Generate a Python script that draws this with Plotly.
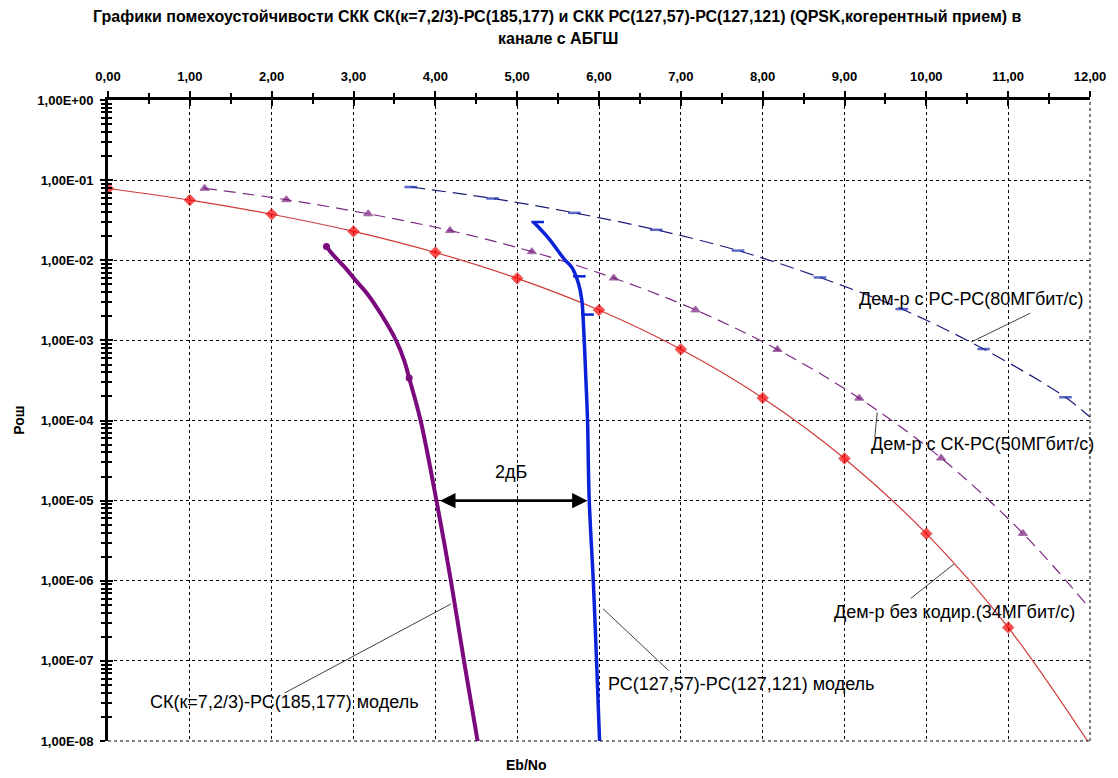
import math
import plotly.graph_objects as go

# ---------------- data ----------------
x_ticks = [0, 1, 2, 3, 4, 5, 6, 7, 8, 9, 10, 11, 12]
x_tick_labels = ["0,00", "1,00", "2,00", "3,00", "4,00", "5,00", "6,00",
                 "7,00", "8,00", "9,00", "10,00", "11,00", "12,00"]
x_minor_ticks = [0.5, 1.5, 2.5, 3.5, 4.5, 5.5, 6.5, 7.5, 8.5, 9.5, 10.5, 11.5]

y_decades = [1e0, 1e-1, 1e-2, 1e-3, 1e-4, 1e-5, 1e-6, 1e-7, 1e-8]
y_tick_labels = ["1,00E+00", "1,00E-01", "1,00E-02", "1,00E-03", "1,00E-04",
                 "1,00E-05", "1,00E-06", "1,00E-07", "1,00E-08"]
y_mantissas = [2, 3, 4, 5, 6, 7, 8, 9]

# uncoded demodulator (34 Mbit/s)
uncoded_x = [0, 1, 2, 3, 4, 5, 6, 7, 8, 9, 10, 11, 12]
uncoded_y = [7.86e-2, 5.63e-2, 3.75e-2, 2.29e-2, 1.25e-2, 5.95e-3, 2.39e-3,
             7.73e-4, 1.91e-4, 3.36e-5, 3.87e-6, 2.61e-7, 9.0e-9]

# demodulator with SK-RS (50 Mbit/s)
skrs_x = [1.18, 2.18, 3.18, 4.18, 5.18, 6.18, 7.18, 8.18, 9.18, 10.18, 11.18, 12.0]
skrs_y = [7.9e-2, 5.7e-2, 3.8e-2, 2.35e-2, 1.28e-2, 6.0e-3, 2.4e-3, 7.7e-4,
          1.9e-4, 3.4e-5, 3.9e-6, 4.5e-7]

# demodulator with RS-RS (80 Mbit/s)
rsrs_x = [3.7, 4.7, 5.7, 6.7, 7.7, 8.7, 9.7, 10.7, 11.7, 12.0]
rsrs_y = [8.2e-2, 5.9e-2, 3.9e-2, 2.4e-2, 1.32e-2, 6.1e-3, 2.46e-3, 7.8e-4,
          1.95e-4, 1.1e-4]

# SK(k=7,2/3)-RS(185,177) model
sk_model_x = [2.67, 2.74, 2.91, 3.02, 3.17, 3.34, 3.52, 3.62, 3.68, 3.82,
              4.01, 4.19, 4.35, 4.53]
sk_model_y = [1.48e-2, 1.2e-2, 7.8e-3, 5.7e-3, 3.8e-3, 2.1e-3, 1.0e-3, 5.6e-4,
              3.4e-4, 1.0e-4, 1.05e-5, 1.0e-6, 1.0e-7, 8.3e-9]
sk_model_mark_x = [2.67, 3.68]
sk_model_mark_y = [1.48e-2, 3.4e-4]

# RS(127,57)-RS(127,121) model
rs_model_x = [5.2, 5.38, 5.57, 5.67, 5.75, 5.79, 5.81, 5.84, 5.86, 5.88,
              5.93, 5.97, 6.01]
rs_model_y = [3.0e-2, 1.9e-2, 1.05e-2, 8.1e-3, 5.1e-3, 3.2e-3, 1.6e-3,
              3.2e-4, 1.0e-4, 1.05e-5, 1.0e-6, 1.0e-7, 8.3e-9]
rs_model_mark_x = [5.25, 5.76, 5.86]
rs_model_mark_y = [3.0e-2, 6.3e-3, 2.1e-3]

# leader lines (x0, y0, x1, y1)
leaders = [
    (11.27, 10 ** -2.66, 10.55, 10 ** -3.02),
    (9.40, 10 ** -3.90, 9.37, 10 ** -4.21),
    (10.34, 10 ** -5.79, 9.81, 10 ** -6.22),
    (6.05, 10 ** -6.35, 6.85, 10 ** -7.12),
    (4.19, 10 ** -6.29, 2.16, 10 ** -7.40),
]
labels_text = ["Дем-р с РС-РС(80МГбит/с)", "Дем-р с СК-РС(50МГбит/с)",
               "Дем-р без кодир.(34МГбит/с)", "РС(127,57)-РС(127,121) модель",
               "СК(к=7,2/3)-РС(185,177) модель", "2дБ"]
labels_x = [10.55, 10.69, 10.35, 7.73, 2.16, 4.93]
labels_y = [10 ** -2.48, 10 ** -4.29, 10 ** -6.39, 10 ** -7.29, 10 ** -7.51, 10 ** -4.64]

gap_x0, gap_x1, gap_y = 4.04, 5.86, 1e-5

title_lines = ["Графики помехоустойчивости СКК СК(к=7,2/3)-РС(185,177) и СКК "
               "РС(127,57)-РС(127,121) (QPSK,когерентный прием) в",
               "канале с АБГШ"]

# ---------------- figure ----------------
FONT = "Liberation Sans, Arial, sans-serif"
fig = go.Figure()

fig.add_trace(go.Scatter(
    x=uncoded_x, y=uncoded_y, mode="lines+markers", line_shape="spline",
    line=dict(color="#d03a3a", width=1.2),
    marker=dict(symbol="diamond", color="#ff0000",
                size=[9] * (len(uncoded_x) - 1) + [0]),
    showlegend=False))

fig.add_trace(go.Scatter(
    x=skrs_x, y=skrs_y, mode="lines+markers", line_shape="spline",
    line=dict(color="#7a2a82", width=1.2, dash="12px,7px"),
    marker=dict(symbol="triangle-up", color="#74147a",
                size=[8] * (len(skrs_x) - 1) + [0]),
    showlegend=False))

fig.add_trace(go.Scatter(
    x=rsrs_x, y=rsrs_y, mode="lines+markers", line_shape="spline",
    line=dict(color="#1c1c7a", width=1.2, dash="14px,7px"),
    marker=dict(symbol="line-ew", color="#1a2ab0",
                line=dict(color="#1a2ab0", width=2.5),
                size=[9] * (len(rsrs_x) - 1) + [0]),
    showlegend=False))

fig.add_trace(go.Scatter(
    x=sk_model_x, y=sk_model_y, mode="lines", line_shape="spline",
    line=dict(color="#7a0a7e", width=4, smoothing=1.0), showlegend=False))
fig.add_trace(go.Scatter(
    x=sk_model_mark_x, y=sk_model_mark_y, mode="markers",
    marker=dict(symbol="circle", color="#7a0a7e", size=7), showlegend=False))

fig.add_trace(go.Scatter(
    x=rs_model_x, y=rs_model_y, mode="lines", line_shape="spline",
    line=dict(color="#0a22d8", width=3.5), showlegend=False))
fig.add_trace(go.Scatter(
    x=rs_model_mark_x, y=rs_model_mark_y, mode="markers",
    marker=dict(symbol="line-ew", color="#0a22d8",
                line=dict(color="#0a22d8", width=2.5), size=9),
    showlegend=False))

for (lx0, ly0, lx1, ly1) in leaders:
    fig.add_trace(go.Scatter(
        x=[lx0, lx1], y=[ly0, ly1], mode="lines",
        line=dict(color="#404040", width=1), showlegend=False,
        hoverinfo="skip"))

# dummy trace for overlay axes (crossing ticks)
fig.add_trace(go.Scatter(x=[None], y=[None], xaxis="x2", yaxis="y2",
                         showlegend=False))

for t, lx, ly in zip(labels_text, labels_x, labels_y):
    fig.add_annotation(x=lx, y=math.log10(ly), xref="x", yref="y", text=t,
                       showarrow=False, font=dict(family=FONT, size=18, color="black"))

fig.add_annotation(x=gap_x1, y=math.log10(gap_y), ax=gap_x0, ay=math.log10(gap_y),
                   xref="x", yref="y", axref="x", ayref="y", text="",
                   showarrow=True, arrowhead=2, arrowsize=1.1, arrowwidth=2.8,
                   arrowside="end+start", arrowcolor="black", standoff=0,
                   startstandoff=0)

# title lines (paper coordinates above the plot area)
for line_text, ly in zip(title_lines, [1.1295, 1.0967]):
    fig.add_annotation(x=0.4579, y=ly, xref="paper", yref="paper",
                       text="<b>" + line_text + "</b>", showarrow=False,
                       xanchor="center", yanchor="middle",
                       font=dict(family=FONT, size=16, color="black"))

fig.add_annotation(x=-0.0914, y=0.5, xref="paper", yref="paper", text="<b>Рош</b>",
                   textangle=-90, showarrow=False, xanchor="center", yanchor="middle",
                   font=dict(family=FONT, size=14, color="black"))
fig.add_annotation(x=0.4254, y=-0.037, xref="paper", yref="paper",
                   text="<b>Eb/No</b>", showarrow=False, xanchor="center",
                   yanchor="middle",
                   font=dict(family=FONT, size=14, color="black"))

# dashed frame lines at right and bottom edges (grid at 12,00 and 1,00E-08)
for sx0, sy0, sx1, sy1 in [(1, 0, 1, 1), (0, 0, 1, 0)]:
    fig.add_shape(type="line", xref="paper", yref="paper",
                  x0=sx0, y0=sy0, x1=sx1, y1=sy1,
                  line=dict(color="black", width=1, dash="3px,3px"))

y_minor = [m * d for d in y_decades[1:] for m in y_mantissas]

grid = dict(showgrid=True, gridcolor="black", gridwidth=1, griddash="3px,3px")
tick_font = dict(family=FONT, size=13, color="black", weight="bold")

fig.update_layout(
    width=1118, height=778,
    margin=dict(l=108, r=25, t=100, b=37),
    paper_bgcolor="white", plot_bgcolor="white",
    font=dict(family=FONT, color="black"),
    xaxis=dict(type="linear", range=[0, 12], side="top",
               tickmode="array", tickvals=x_ticks, ticktext=x_tick_labels,
               tickfont=tick_font,
               showline=True, linecolor="black", linewidth=3,
               ticks="outside", ticklen=6, tickwidth=2, tickcolor="black",
               ticklabelstandoff=5,
               minor=dict(tickmode="array", tickvals=x_minor_ticks, ticks="outside",
                          ticklen=4, tickwidth=2, tickcolor="black", showgrid=False),
               zeroline=False, **grid),
    xaxis2=dict(type="linear", range=[0, 12], side="top", overlaying="x",
                tickmode="array", tickvals=x_ticks, showticklabels=False,
                ticks="inside", ticklen=6, tickwidth=2, tickcolor="black",
                minor=dict(tickmode="array", tickvals=x_minor_ticks, ticks="inside",
                           ticklen=4, tickwidth=2, tickcolor="black", showgrid=False),
                showgrid=False, showline=False, zeroline=False),
    yaxis=dict(type="log", range=[-8, 0],
               tickmode="array", tickvals=y_decades, ticktext=y_tick_labels,
               tickfont=tick_font,
               showline=True, linecolor="black", linewidth=3,
               ticks="outside", ticklen=5, tickwidth=2, tickcolor="black",
               ticklabelstandoff=4,
               minor=dict(tickmode="array", tickvals=y_minor, ticks="outside",
                          ticklen=4, tickwidth=2, tickcolor="black", showgrid=False),
               zeroline=False, **grid),
    yaxis2=dict(type="log", range=[-8, 0], overlaying="y",
                tickmode="array", tickvals=y_decades, showticklabels=False,
                ticks="inside", ticklen=5, tickwidth=2, tickcolor="black",
                minor=dict(tickmode="array", tickvals=y_minor, ticks="inside",
                           ticklen=4, tickwidth=2, tickcolor="black", showgrid=False),
                showgrid=False, showline=False, zeroline=False),
)

fig.write_html("out.html", config={"displayModeBar": False},
               post_script="document.body.style.margin='0px';"
                           "document.body.style.padding='0px';")
